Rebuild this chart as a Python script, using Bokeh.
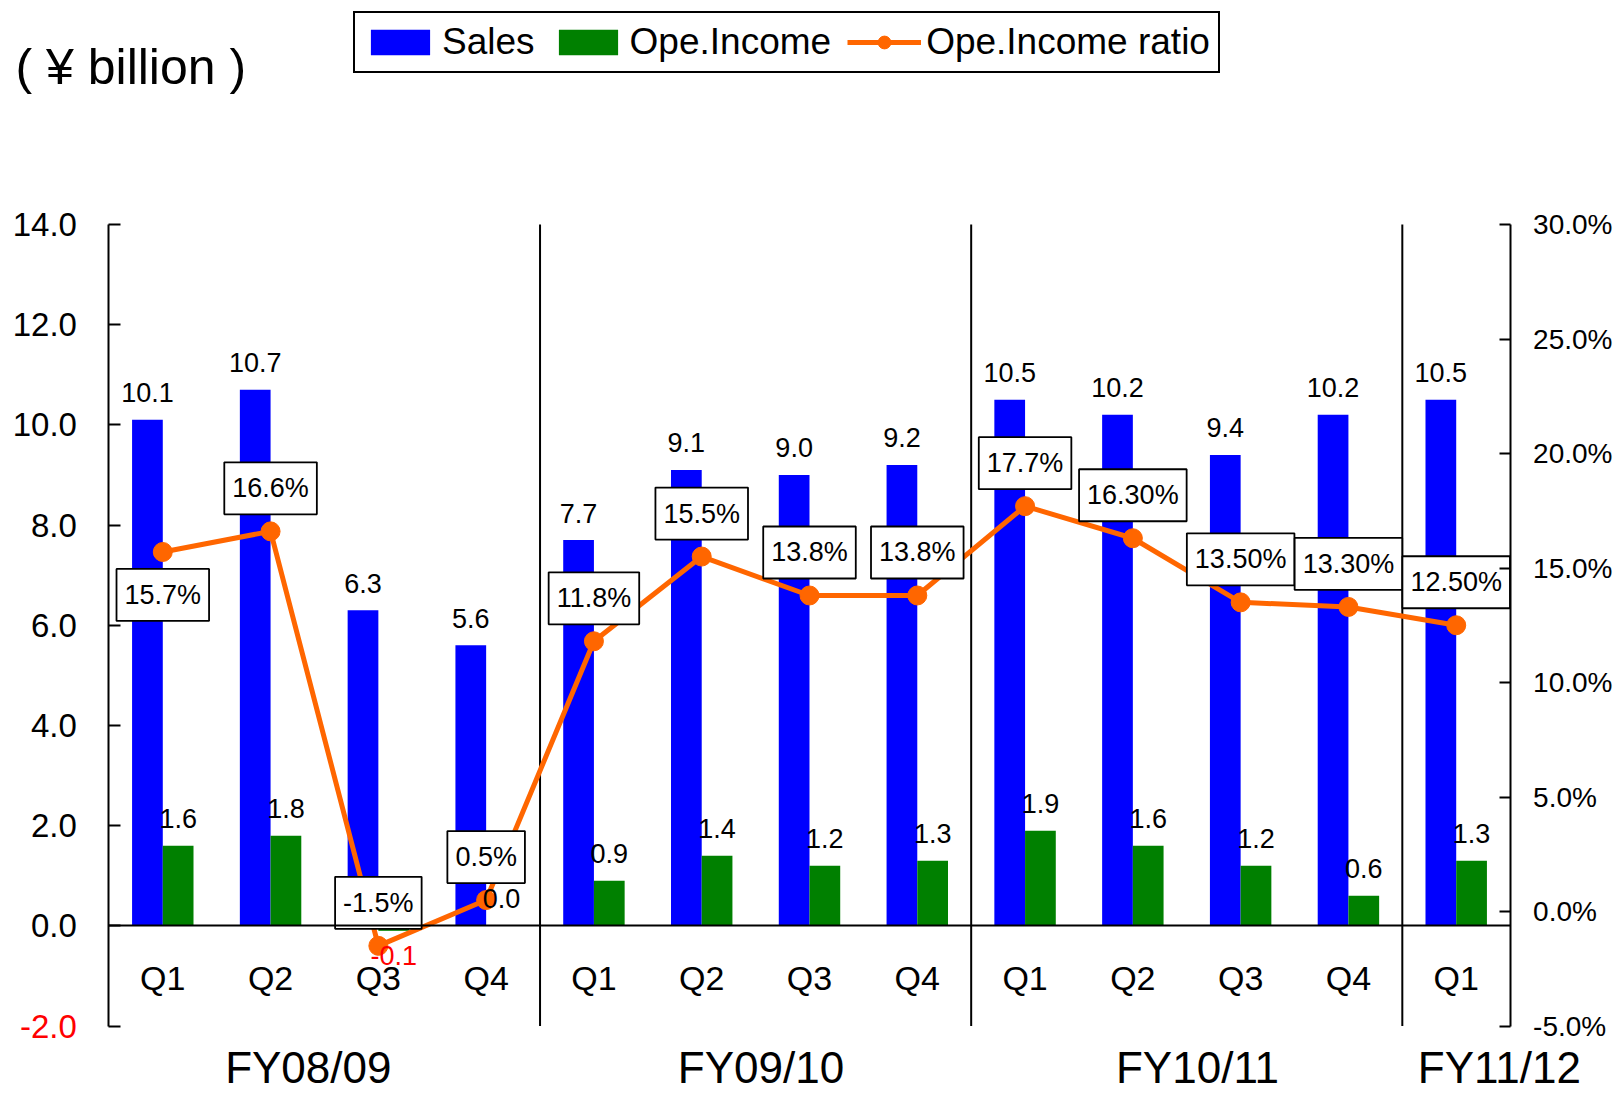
import numpy as np
from bokeh.plotting import figure
from bokeh.models import (Range1d, LinearAxis, FixedTicker, PrintfTickFormatter,
                          CustomJSTickFormatter, Label, Legend, LegendItem,
                          ColumnDataSource)
from bokeh.core.properties import value
from bokeh.embed import file_html
from bokeh.resources import INLINE

# ---------------- data ----------------
fiscal_years = ["FY08/09", "FY09/10", "FY10/11", "FY11/12"]
quarters_per_year = [4, 4, 4, 1]
quarters = ["Q1", "Q2", "Q3", "Q4", "Q1", "Q2", "Q3", "Q4",
            "Q1", "Q2", "Q3", "Q4", "Q1"]
sales = [10.1, 10.7, 6.3, 5.6, 7.7, 9.1, 9.0, 9.2, 10.5, 10.2, 9.4, 10.2, 10.5]
ope_income = [1.6, 1.8, -0.1, 0.0, 0.9, 1.4, 1.2, 1.3, 1.9, 1.6, 1.2, 0.6, 1.3]
ope_ratio = [15.7, 16.6, -1.5, 0.5, 11.8, 15.5, 13.8, 13.8, 17.7, 16.3, 13.5, 13.3, 12.5]
ratio_labels = ["15.7%", "16.6%", "-1.5%", "0.5%", "11.8%", "15.5%", "13.8%",
                "13.8%", "17.7%", "16.30%", "13.50%", "13.30%", "12.50%"]
left_ticks = [-2, 0, 2, 4, 6, 8, 10, 12, 14]
right_ticks = [-5, 0, 5, 10, 15, 20, 25, 30]
unit_label = "( ¥ billion )"

# ---------------- layout / styling ----------------
FONT = "Liberation Sans"
BLUE = "#0000FF"
GREEN = "#008000"
ORANGE = "#FF6600"

W, H = 1619, 1096
X0_PX, X1_PX = 108.4, 1509.6        # pixel position of category axis ends
Y_TOP_PX, Y_BOT_PX = 224.0, 1025.5  # pixel position of top/bottom of value axes

n = len(quarters)
xc = np.arange(n) + 0.5
bw = 0.285
y_lo, y_hi = left_ticks[0], left_ticks[-1]
r_lo, r_hi = right_ticks[0], right_ticks[-1]

cat_px = (X1_PX - X0_PX) / n
x_min = -X0_PX / cat_px
x_max = n + (W - X1_PX) / cat_px
ky = (y_hi - y_lo) / (Y_BOT_PX - Y_TOP_PX)
kr = (r_hi - r_lo) / (Y_BOT_PX - Y_TOP_PX)
y_min = y_lo - (H - Y_BOT_PX) * ky
y_max = y_hi + Y_TOP_PX * ky
r_min = r_lo - (H - Y_BOT_PX) * kr
r_max = r_hi + Y_TOP_PX * kr

p = figure(width=W, height=H, x_range=Range1d(x_min, x_max), y_range=Range1d(y_min, y_max),
           output_backend="svg", toolbar_location=None,
           x_axis_location=None, y_axis_location=None,
           min_border_left=0, min_border_right=0, min_border_top=0, min_border_bottom=0)
p.min_border = 0
p.outline_line_color = None
p.background_fill_color = "white"
p.border_fill_color = "white"
p.grid.visible = False
p.extra_y_ranges = {"pct": Range1d(r_min, r_max)}

# left value axis
ya = LinearAxis(fixed_location=0, bounds=(y_lo, y_hi), ticker=FixedTicker(ticks=left_ticks),
                formatter=CustomJSTickFormatter(code="return tick < -1 ? '' : tick.toFixed(1)"))
ya.major_tick_in = 12
ya.major_tick_out = 0
ya.minor_tick_in = 0
ya.minor_tick_out = 0
ya.axis_line_width = 2
ya.major_tick_line_width = 2
ya.major_label_text_font = FONT
ya.major_label_text_font_size = "33px"
ya.major_label_text_color = "black"
ya.major_label_standoff = 32
p.add_layout(ya, "left")

# red label for the negative tick
ya_neg = LinearAxis(fixed_location=0, ticker=FixedTicker(ticks=[y_lo]),
                    formatter=PrintfTickFormatter(format="%.1f"))
ya_neg.axis_line_color = None
ya_neg.major_tick_line_color = None
ya_neg.minor_tick_line_color = None
ya_neg.major_tick_in = 0
ya_neg.major_tick_out = 0
ya_neg.major_label_text_font = FONT
ya_neg.major_label_text_font_size = "33px"
ya_neg.major_label_text_color = "red"
ya_neg.major_label_standoff = 32
p.add_layout(ya_neg, "left")

# right percentage axis
ra = LinearAxis(y_range_name="pct", fixed_location=n, bounds=(r_lo, r_hi),
                ticker=FixedTicker(ticks=right_ticks),
                formatter=PrintfTickFormatter(format="%.1f%%"))
ra.major_tick_in = 11
ra.major_tick_out = 0
ra.minor_tick_in = 0
ra.minor_tick_out = 0
ra.axis_line_width = 2
ra.major_tick_line_width = 2
ra.major_label_text_font = FONT
ra.major_label_text_font_size = "28px"
ra.major_label_text_color = "black"
ra.major_label_standoff = 23
p.add_layout(ra, "right")

# quarter axis on the zero line
qa = LinearAxis(fixed_location=0, bounds=(0, n), ticker=FixedTicker(ticks=list(xc)),
                formatter=CustomJSTickFormatter(args=dict(labels=quarters),
                                                code="return labels[index]"))
qa.axis_line_width = 2
qa.axis_line_color = "black"
qa.major_tick_line_color = None
qa.minor_tick_line_color = None
qa.major_tick_in = 0
qa.major_tick_out = 0
qa.major_label_text_font = FONT
qa.major_label_text_font_size = "34px"
qa.major_label_text_color = "black"
qa.major_label_standoff = 33
p.add_layout(qa, "below")

# fiscal-year axis
starts = np.cumsum([0] + quarters_per_year[:-1])
nudges = [-0.15, 0.05, 0.1, 0.4]
fy_x = [float(s + q / 2 + d) for s, q, d in zip(starts, quarters_per_year, nudges)]
fa = LinearAxis(fixed_location=y_lo, ticker=FixedTicker(ticks=fy_x),
                formatter=CustomJSTickFormatter(args=dict(labels=fiscal_years),
                                                code="return labels[index]"))
fa.axis_line_color = None
fa.major_tick_line_color = None
fa.minor_tick_line_color = None
fa.major_tick_in = 0
fa.major_tick_out = 0
fa.major_label_text_font = FONT
fa.major_label_text_font_size = "44px"
fa.major_label_text_color = "black"
fa.major_label_standoff = 17
p.add_layout(fa, "below")

# group dividers
div_x = [float(b) for b in np.cumsum(quarters_per_year)[:-1]]
p.segment(x0=div_x, y0=y_lo, x1=div_x, y1=y_hi, line_color="black", line_width=2)

# bars
b1 = p.vbar(x=xc - bw / 2, top=sales, bottom=0, width=bw, fill_color=BLUE, line_color=None)
b2 = p.vbar(x=xc + bw / 2, top=ope_income, bottom=0, width=bw, fill_color=GREEN, line_color=None)

# ratio line
lr = p.line(xc, ope_ratio, y_range_name="pct", line_color=ORANGE, line_width=5)
sr = p.scatter(xc, ope_ratio, y_range_name="pct", size=19, fill_color=ORANGE, line_color=ORANGE)

# bar value labels
txt = dict(text_font=value(FONT), text_font_size="27px", text_align="center")
p.text(x=xc - bw / 2, y=sales, text=[f"{v:.1f}" for v in sales],
       text_baseline="alphabetic", y_offset=-27, text_color="black", **txt)
pos = [i for i, v in enumerate(ope_income) if v >= 0]
neg = [i for i, v in enumerate(ope_income) if v < 0]
p.text(x=[xc[i] + bw / 2 for i in pos], y=[ope_income[i] for i in pos],
       text=[f"{ope_income[i]:.1f}" for i in pos],
       text_baseline="alphabetic", y_offset=-27, text_color="black", **txt)
p.text(x=[xc[i] + bw / 2 for i in neg], y=[ope_income[i] for i in neg],
       text=[f"{ope_income[i]:.1f}" for i in neg],
       text_baseline="top", y_offset=15, text_color="red", **txt)

# ratio labels in boxes
ratio_src = ColumnDataSource(dict(x=xc, y=ope_ratio, t=ratio_labels,
                                  off=[43 if k == 0 else -43 for k in range(n)]))
p.text(x="x", y="y", text="t", y_offset="off", source=ratio_src, y_range_name="pct",
       text_baseline="middle", text_color="black",
       background_fill_color="white", border_line_color="black", border_line_width=1.8,
       padding=(8, 11), **txt)

# unit label
p.add_layout(Label(x=15, y=H - 66, x_units="screen", y_units="screen", text=unit_label,
                   text_align="left", text_baseline="middle", text_color="black",
                   text_font=FONT, text_font_size="50px"))

# legend
legend = Legend(items=[LegendItem(label="Sales", renderers=[b1]),
                       LegendItem(label="Ope.Income", renderers=[b2]),
                       LegendItem(label="Ope.Income ratio", renderers=[lr, sr])],
                orientation="horizontal", location=(353, H - 73),
                border_line_color="black", border_line_width=2.5, border_line_alpha=1.0,
                background_fill_color="white", background_fill_alpha=1.0,
                padding=8, spacing=16, label_standoff=5, glyph_width=74,
                glyph_height=32, label_text_font=FONT, label_text_font_size="37px",
                label_text_color="black", margin=0)
p.add_layout(legend, "center")

open("out.html", "w").write(file_html(p, INLINE))
